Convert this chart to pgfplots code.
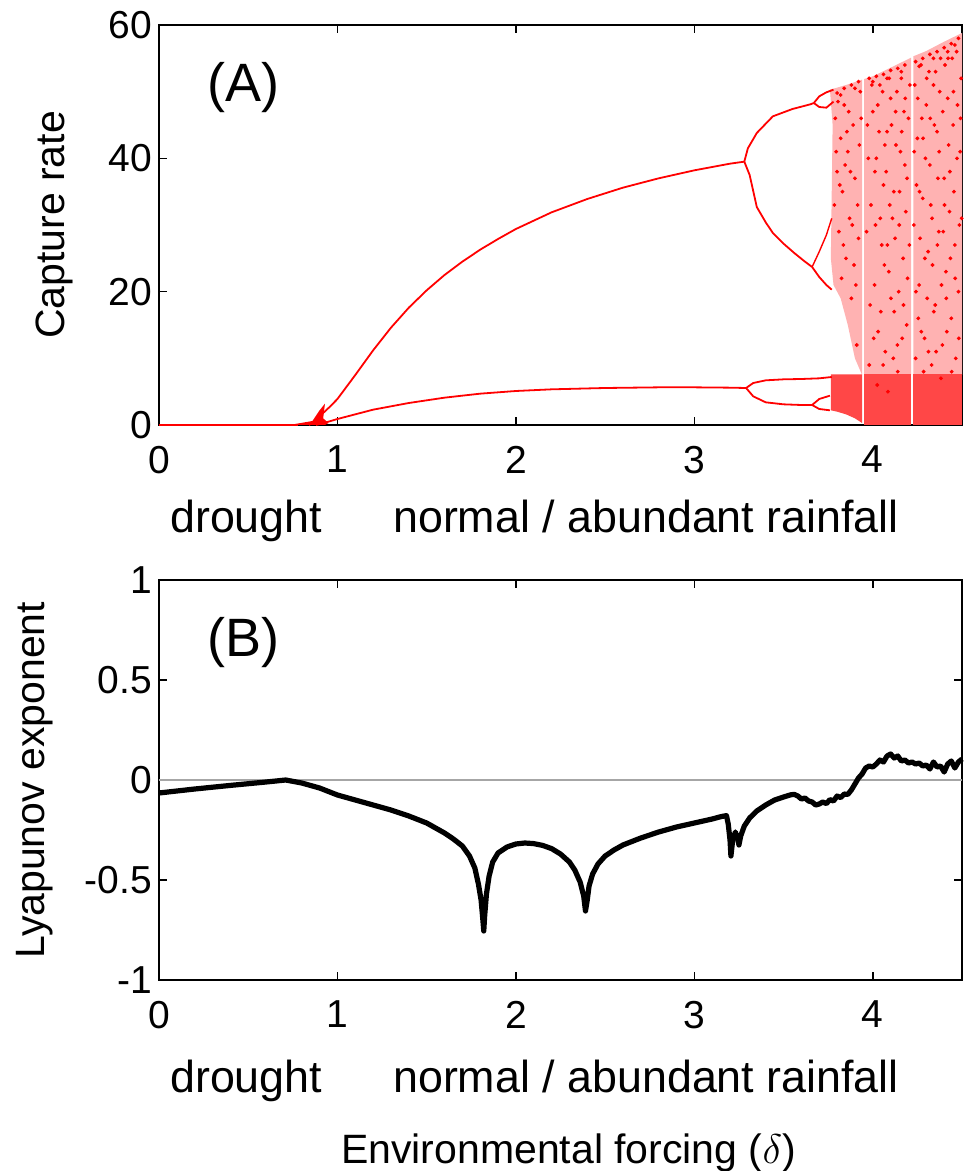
\documentclass[border=0pt]{standalone}
\usepackage{fontspec}
\setmainfont{Liberation Sans}
\usepackage{pgfplots}
\pgfplotsset{compat=1.18}
\newcommand{\lbl}{\fontsize{19.5}{23}\selectfont}
\newcommand{\axlbl}{\fontsize{20.5}{24}\selectfont}
\newcommand{\rowfont}{\fontsize{22.4}{26}\selectfont}
\newcommand{\panelfont}{\fontsize{27}{30}\selectfont}

\pgfplotsset{
  panel/.style={
    scale only axis, width=401.5pt, height=200pt,
    xmin=0, xmax=4.5,
    xtick={0,1,2,3,4}, xticklabels={0,1,2,3,4},
    tick align=inside, major tick length=4pt,
    axis line style={line width=1pt},
    tick style={line width=0.8pt, black},
    every tick label/.append style={font=\lbl},
    xticklabel style={yshift=-7pt},
    label style={font=\axlbl},
    clip=false,
  },
}

\begin{document}
\begin{tikzpicture}
% (A) bifurcation diagram
\begin{axis}[panel, name=top,
  ymin=0, ymax=60, ytick={0,20,40,60}, yticklabels={0,20,40,60},
  ylabel={Capture rate},
  ylabel style={at={(axis description cs:-0.1297,0.5)}, anchor=center}]
% chaotic bands
\addplot[fill=red!30, draw=none] coordinates {(3.76,50.3)(3.8,50.6)(3.85,51)(3.94,51.8)(3.94,7.5)(3.9,10)(3.86,15)(3.82,19)(3.78,21)(3.765,25)(3.77,35)(3.775,45)} -- cycle;
\addplot[fill=red!30, draw=none] coordinates {(3.952,51.9)(4.0,52.3)(4.1,53.6)(4.215,55.1)(4.215,7.5)(3.952,7.5)} -- cycle;
\addplot[fill=red!30, draw=none] coordinates {(4.227,55.3)(4.3,56.1)(4.4,57.5)(4.5,58.8)(4.5,7.5)(4.227,7.5)} -- cycle;
\addplot[fill=red!72, draw=none] coordinates {(3.765,7.6)(3.94,7.6)(3.94,0.3)(3.9,1.0)(3.85,1.6)(3.8,2.0)(3.765,2.2)} -- cycle;
\addplot[fill=red!72, draw=none] coordinates {(3.952,7.6)(4.215,7.6)(4.215,0)(3.952,0)} -- cycle;
\addplot[fill=red!72, draw=none] coordinates {(4.227,7.6)(4.5,7.6)(4.5,0)(4.227,0)} -- cycle;
% periodic branches
\addplot[red, line width=0.9pt] coordinates {(0,0)(0.78,0)};
\addplot[fill=red, draw=none] coordinates {(0.73,0)(0.86,0.6)(0.9,2.2)(0.93,3.2)(0.92,1)(0.95,0.3)(0.93,0)} -- cycle;
\addplot[red, line width=0.9pt] coordinates {(0.84,0)(0.88,0.6)(0.92,1.8)(0.96,2.8)(1.0,3.9)(1.1,7.5)(1.2,11.2)(1.3,14.6)(1.4,17.6)(1.5,20.2)(1.6,22.5)(1.7,24.5)(1.8,26.3)(1.9,27.9)(2.0,29.4)(2.2,31.9)(2.4,33.9)(2.6,35.6)(2.8,37.0)(3.0,38.2)(3.1,38.7)(3.2,39.2)(3.28,39.5)};
\addplot[red, line width=0.9pt] coordinates {(3.28,39.5)(3.3,41.5)(3.35,43.8)(3.44,46.3)(3.55,47.4)(3.65,48.1)(3.67,48.3)};
\addplot[red, line width=0.9pt] coordinates {(3.67,48.3)(3.7,49.3)(3.74,49.9)(3.78,50.3)};
\addplot[red, line width=0.9pt] coordinates {(3.67,48.3)(3.7,47.7)(3.74,47.6)(3.78,48.5)};
\addplot[red, line width=0.9pt] coordinates {(3.28,39.5)(3.31,37.5)(3.35,32.7)(3.4,30.4)(3.44,28.8)(3.5,27.2)(3.56,25.8)(3.62,24.5)(3.66,23.7)};
\addplot[red, line width=0.7pt] coordinates {(3.66,23.7)(3.7,26)(3.74,28.5)(3.77,31)};
\addplot[red, line width=0.9pt] coordinates {(3.66,23.7)(3.7,22.2)(3.74,21)(3.77,20.3)};
\addplot[red, line width=0.9pt] coordinates {(0.88,0)(0.95,0.5)(1.0,0.9)(1.1,1.6)(1.2,2.3)(1.4,3.3)(1.6,4.1)(1.8,4.7)(2.0,5.1)(2.2,5.35)(2.5,5.55)(2.8,5.65)(3.0,5.65)(3.2,5.6)(3.29,5.55)};
\addplot[red, line width=0.9pt] coordinates {(3.29,5.55)(3.33,6.3)(3.4,6.7)(3.5,6.85)(3.6,6.9)(3.7,7.0)(3.77,7.2)};
\addplot[red, line width=0.9pt] coordinates {(3.29,5.55)(3.33,4.3)(3.4,3.4)(3.5,3.1)(3.6,3.0)(3.66,3.0)};
\addplot[red, line width=0.9pt] coordinates {(3.66,3.0)(3.7,3.9)(3.76,4.4)};
\addplot[red, line width=0.9pt] coordinates {(3.66,3.0)(3.7,2.4)(3.76,2.2)};
% scattered chaotic iterates
\addplot[only marks, mark=*, mark size=0.75pt, red] coordinates {
(3.79,46)(3.80,38)(3.81,29)(3.82,43)(3.83,35)(3.84,48)(3.85,25)(3.86,41)(3.87,31)(3.88,19)
(3.89,45)(3.90,37)(3.91,12)(3.92,28)(3.93,50)(3.98,9)(3.99,33)(4.00,47)(4.01,21)(4.02,40)
(4.03,14)(4.04,51)(4.05,27)(4.06,36)(4.07,11)(4.08,44)(4.09,23)(4.10,49)(4.11,31)(4.12,17)
(4.13,42)(4.14,8)(4.15,35)(4.16,52)(4.17,25)(4.18,39)(4.19,15)(4.20,46)(4.23,30)(4.24,10)
(4.25,43)(4.26,21)(4.27,54)(4.28,34)(4.29,13)(4.30,48)(4.31,26)(4.32,39)(4.33,9)(4.34,51)
(4.35,18)(4.36,44)(4.37,29)(4.38,55)(4.39,12)(4.40,37)(4.41,23)(4.42,49)(4.43,32)(4.44,16)
(4.45,45)(4.46,27)(4.47,56)(4.48,20)(4.49,41)
(3.785,33)(3.805,48.5)(3.825,22)(3.845,39)(3.865,47)(3.885,30)(3.905,21)(3.925,42)(3.975,40)(3.985,18)
(3.995,51)(4.015,30)(4.025,6)(4.035,44)(4.045,17)(4.055,50)(4.065,24)(4.075,38)(4.085,5)(4.095,33)
(4.105,45)(4.115,10)(4.125,28)(4.135,50)(4.145,20)(4.155,41)(4.165,13)(4.175,47)(4.185,32)(4.195,22)
(4.235,51)(4.245,36)(4.255,16)(4.265,28)(4.275,46)(4.285,8)(4.295,40)(4.305,19)(4.315,53)(4.325,33)
(4.335,24)(4.345,45)(4.355,11)(4.365,37)(4.375,50)(4.385,21)(4.395,29)(4.405,54)(4.415,14)(4.425,42)
(4.435,25)(4.445,55)(4.455,35)(4.465,10)(4.475,48)(4.485,30)(4.495,52)
(3.80,49.8)(3.84,50.5)(3.88,51)(3.92,51.5)(3.98,52)(4.02,52.3)(4.06,52.6)(4.1,53.2)(4.14,53.5)(4.18,54)
(4.24,54.5)(4.28,55)(4.32,55.6)(4.36,56)(4.4,56.6)(4.44,57.2)(4.48,58)(3.82,49.5)(3.90,50.5)(4.0,51.5)
(4.08,52)(4.16,53)(4.26,53.8)(4.34,55)(4.42,56)(4.46,57)
(3.795,41)(3.815,36)(3.835,27)(3.855,44)(3.875,38)(3.895,24)(3.915,33)(3.935,46)(3.965,29)(3.97,45)
(4.005,13)(4.012,38)(4.028,48)(4.042,31)(4.058,9)(4.068,42)(4.082,27)(4.092,52)(4.102,19)(4.118,35)
(4.128,47)(4.138,12)(4.148,30)(4.162,44)(4.172,18)(4.182,49)(4.192,37)(4.205,27)(4.208,51)(4.232,41)
(4.242,20)(4.252,49)(4.262,35)(4.272,14)(4.282,43)(4.292,25)(4.302,52)(4.312,11)(4.322,46)(4.332,31)
(4.342,17)(4.352,53)(4.362,27)(4.372,41)(4.382,7)(4.392,47)(4.402,33)(4.412,19)(4.422,55)(4.432,38)
(4.442,8)(4.452,50)(4.462,22)(4.472,40)(4.482,13)(4.492,46)(4.498,31)
};
\node[font=\panelfont] at (rel axis cs:0.105,0.8425) {(A)};
\node[font=\rowfont, anchor=base, yshift=-54pt] at (rel axis cs:0.1086,0) {drought};
\node[font=\rowfont, anchor=base, yshift=-54pt] at (rel axis cs:0.6065,0) {normal / abundant rainfall};
\end{axis}

% (B) Lyapunov exponent
\begin{axis}[panel, at={(0pt,-77.5pt)}, anchor=north west,
  ymin=-1, ymax=1, ytick={-1,-0.5,0,0.5,1}, yticklabels={-1,-0.5,0,0.5,1},
  ylabel={Lyapunov exponent},
  ylabel style={at={(axis description cs:-0.1547,0.5)}, anchor=center}]
\addplot[gray!70, line width=1pt] coordinates {(0,0)(4.5,0)};
\addplot[black, line width=2.6pt, line join=round] coordinates {
(0,-0.065)(0.2,-0.045)(0.4,-0.027)(0.6,-0.01)(0.71,0.0)(0.8,-0.015)(0.9,-0.04)(1.0,-0.075)
(1.1,-0.1)(1.2,-0.125)(1.3,-0.15)(1.4,-0.18)(1.5,-0.215)(1.6,-0.265)(1.65,-0.295)(1.7,-0.33)
(1.74,-0.38)(1.77,-0.44)(1.79,-0.52)(1.805,-0.6)(1.815,-0.7)(1.82,-0.755)(1.825,-0.68)(1.835,-0.57)
(1.85,-0.48)(1.87,-0.41)(1.9,-0.365)(1.95,-0.335)(2.0,-0.32)(2.05,-0.315)(2.1,-0.318)(2.15,-0.327)
(2.2,-0.343)(2.25,-0.37)(2.3,-0.41)(2.33,-0.45)(2.36,-0.51)(2.38,-0.58)(2.39,-0.655)(2.4,-0.6)
(2.41,-0.53)(2.43,-0.47)(2.46,-0.42)(2.5,-0.38)(2.55,-0.35)(2.6,-0.325)(2.7,-0.29)(2.8,-0.26)
(2.9,-0.235)(3.0,-0.215)(3.1,-0.195)(3.15,-0.183)(3.18,-0.178)(3.19,-0.22)(3.2,-0.3)(3.205,-0.38)
(3.215,-0.3)(3.23,-0.26)(3.245,-0.3)(3.25,-0.325)(3.26,-0.28)(3.28,-0.23)(3.31,-0.19)(3.35,-0.155)
(3.4,-0.125)(3.45,-0.1)(3.5,-0.085)(3.54,-0.074)(3.56,-0.072)(3.58,-0.08)(3.6,-0.095)(3.62,-0.09)
(3.64,-0.105)(3.66,-0.11)(3.68,-0.125)(3.7,-0.12)(3.72,-0.11)(3.74,-0.118)(3.76,-0.098)(3.78,-0.105)
(3.8,-0.08)(3.82,-0.088)(3.84,-0.07)(3.86,-0.072)(3.88,-0.05)(3.9,-0.02)(3.92,0.01)(3.94,0.03)
(3.96,0.06)(3.98,0.07)(4.0,0.065)(4.02,0.08)(4.04,0.1)(4.06,0.09)(4.08,0.12)(4.1,0.13)
(4.12,0.11)(4.14,0.12)(4.16,0.095)(4.18,0.1)(4.2,0.085)(4.22,0.09)(4.24,0.08)(4.26,0.085)
(4.28,0.07)(4.3,0.075)(4.32,0.055)(4.34,0.09)(4.36,0.065)(4.38,0.07)(4.4,0.04)(4.42,0.08)
(4.44,0.095)(4.46,0.06)(4.48,0.09)(4.5,0.105)
};
\node[font=\panelfont] at (rel axis cs:0.105,0.8425) {(B)};
\node[font=\rowfont, anchor=base, yshift=-56pt] at (rel axis cs:0.1086,0) {drought};
\node[font=\rowfont, anchor=base, yshift=-56pt] at (rel axis cs:0.6065,0) {normal / abundant rainfall};
\node[font=\axlbl, anchor=base, yshift=-91.5pt] at (rel axis cs:0.51,0) {Environmental forcing ($\delta$)};
\end{axis}
\pgfresetboundingbox
\path (-79.5pt,212.5pt) rectangle (403.5pt,-373pt);
\end{tikzpicture}
\end{document}
